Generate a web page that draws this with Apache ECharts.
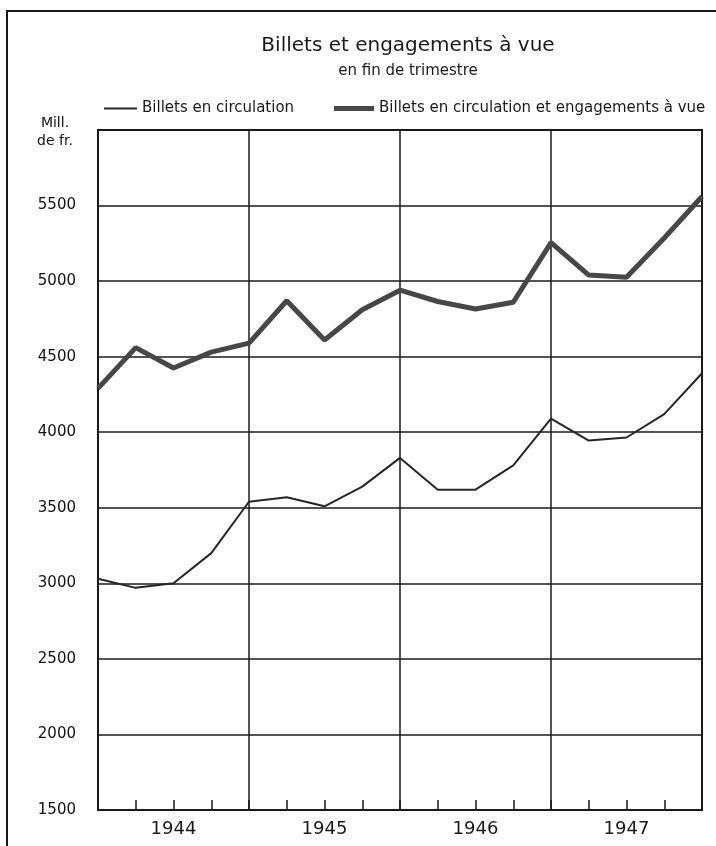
<!DOCTYPE html>
<html>
<head>
<meta charset="utf-8">
<script src="https://cdn.jsdelivr.net/npm/echarts@6/dist/echarts.min.js"></script>
<style>
  html, body { margin: 0; padding: 0; background: #fff; }
  #chart { width: 716px; height: 846px; }
</style>
</head>
<body>
<div id="chart"></div>
<script>
// fin de trimestre, de déc. 1943 à déc. 1947
const quarters = [
  "1943-12", "1944-03", "1944-06", "1944-09", "1944-12",
  "1945-03", "1945-06", "1945-09", "1945-12",
  "1946-03", "1946-06", "1946-09", "1946-12",
  "1947-03", "1947-06", "1947-09", "1947-12"
];
// Mill. de fr.
const billets = [3030, 2970, 3000, 3200, 3540, 3570, 3510, 3640, 3830, 3620, 3620, 3780, 4090, 3945, 3965, 4120, 4390];
const billetsEtEngagements = [4290, 4560, 4425, 4530, 4590, 4870, 4610, 4810, 4940, 4865, 4815, 4860, 5255, 5040, 5025, 5285, 5560];
const yTicks = [1500, 2000, 2500, 3000, 3500, 4000, 4500, 5000, 5500];

const font = "DejaVu Sans";
const ink = "#1a1a1a";

const chart = echarts.init(document.getElementById("chart"));

chart.setOption({
  animation: false,
  backgroundColor: "#fff",
  textStyle: { fontFamily: font, color: ink },
  title: {
    text: "Billets et engagements à vue",
    subtext: "en fin de trimestre",
    left: 403,
    textAlign: "center",
    top: 31,
    itemGap: 8,
    textStyle: { fontFamily: font, fontSize: 20, fontWeight: "normal", color: ink },
    subtextStyle: { fontFamily: font, fontSize: 15, color: ink }
  },
  legend: [
    {
      data: [{ name: "Billets en circulation", icon: "rect" }],
      left: 99, top: 96,
      itemWidth: 33, itemHeight: 2,
      textStyle: { fontFamily: font, fontSize: 15, color: ink }
    },
    {
      data: [{ name: "Billets en circulation et engagements à vue", icon: "rect" }],
      left: 329, top: 96,
      itemWidth: 40, itemHeight: 5,
      textStyle: { fontFamily: font, fontSize: 15, color: ink }
    }
  ],
  grid: {
    left: 98, right: 14, top: 130, bottom: 36,
    show: true, borderColor: ink, borderWidth: 2
  },
  xAxis: {
    type: "category",
    data: quarters,
    boundaryGap: false,
    axisLine: { lineStyle: { color: ink, width: 2 } },
    axisTick: { show: true, inside: true, interval: 0, length: 10, lineStyle: { color: ink, width: 1.5 } },
    splitLine: { show: true, interval: (i) => i % 4 === 0, lineStyle: { color: ink, width: 1.5 } },
    axisLabel: {
      interval: 0,
      margin: 10,
      fontSize: 18,
      color: ink,
      formatter: (v) => (v.endsWith("-06") ? v.slice(0, 4) : "")
    }
  },
  yAxis: {
    type: "value",
    min: 1500, max: 6000, interval: 500,
    axisLine: { show: true, lineStyle: { color: ink, width: 2 } },
    axisTick: { show: false },
    splitLine: { lineStyle: { color: ink, width: 1.5 } },
    axisLabel: {
      margin: 22,
      fontSize: 15,
      color: "#111",
      formatter: (v) => (yTicks.includes(v) ? String(v) : "")
    }
  },
  graphic: [
    {
      type: "text", x: 55, y: 114,
      style: { text: "Mill.\nde fr.", font: "14px 'DejaVu Sans'", fill: "#111", align: "center", lineHeight: 18 }
    },
    {
      type: "rect", shape: { x: 7, y: 11, width: 740, height: 880 },
      style: { fill: "none", stroke: ink, lineWidth: 2 }, silent: true
    }
  ],
  series: [
    {
      name: "Billets en circulation",
      type: "line",
      data: billets,
      showSymbol: false,
      color: "#262626",
      lineStyle: { width: 2, color: "#262626" }
    },
    {
      name: "Billets en circulation et engagements à vue",
      type: "line",
      data: billetsEtEngagements,
      showSymbol: false,
      color: "#474747",
      lineStyle: { width: 5, color: "#474747" }
    }
  ]
});
</script>
</body>
</html>
